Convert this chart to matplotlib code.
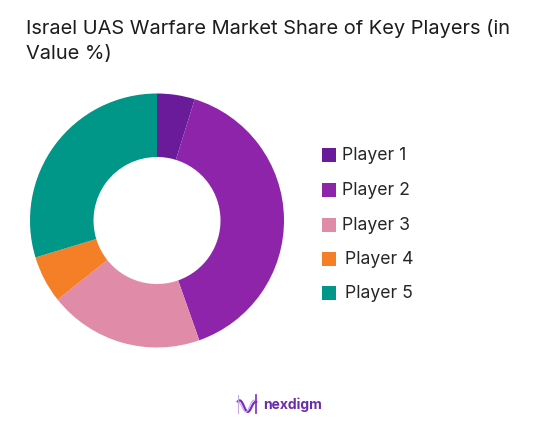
import numpy as np
import matplotlib
matplotlib.use("Agg")
import matplotlib.pyplot as plt
from matplotlib.patches import Rectangle

title_lines = ["Israel UAS Warfare Market Share of Key Players (in", "Value %)"]
players = ["Player 1", "Player 2", "Player 3", "Player 4", "Player 5"]
shares = [4.8, 39.8, 19.7, 6.0, 29.7]
colors = ["#6A1B9A", "#8E24AA", "#E08CA8", "#F57F27", "#009688"]
legend_y = [156, 191, 226, 260, 294]
legend_sw_x = [322, 322, 322, 322, 322]
legend_tx_x = [342, 342, 342, 345, 345]
W, H = 540, 431

plt.rcParams["font.family"] = ["Inter", "DejaVu Sans"]
fig = plt.figure(figsize=(W / 100, H / 100), dpi=100, facecolor="white")

ax = fig.add_axes([(157 - 127) / W, 1 - (221.5 + 127) / H, 254 / W, 254 / H])
ax.pie(shares, colors=colors, startangle=90, counterclock=False, radius=1,
       wedgeprops=dict(width=0.5, linewidth=0))
ax.set_xlim(-1, 1)
ax.set_ylim(-1, 1)
ax.set_aspect("equal")

for line, y in zip(title_lines, [29, 54]):
    fig.text(26 / W, 1 - y / H, line, fontsize=14.4, color="#1c1c1c", va="center", ha="left")

for name, col, y, sx, tx in zip(players, colors, legend_y, legend_sw_x, legend_tx_x):
    fig.add_artist(Rectangle((sx / W, 1 - (y + 7) / H), 14 / W, 14 / H, color=col,
                             transform=fig.transFigure, linewidth=0))
    fig.text(tx / W, 1 - y / H, name, fontsize=12.7, color="#262626", va="center", ha="left")

# logo
logo = fig.add_axes([236 / W, 1 - 416 / H, 22 / W, 22 / H])
logo.axis("off")
t = np.linspace(0, 1, 60)
for ph, col, lw in [(0.0, "#7B2CBF", 1.6), (0.12, "#C9A6E4", 0.8)]:
    logo.plot(0.08 + 0.84 * t, 0.5 + 0.36 * np.cos(2 * np.pi * (t * 0.9 + ph)) * np.sin(np.pi * (t * 0.8 + 0.1)),
              color=col, lw=lw)
logo.plot([0.08, 0.08], [0.1, 0.92], color="#C9A6E4", lw=0.8)
logo.plot([0.92, 0.92], [0.08, 0.92], color="#7B2CBF", lw=1.2)
logo.set_xlim(0, 1)
logo.set_ylim(0, 1)
fig.text(263 / W, 1 - 405 / H, "nexdigm", fontsize=10, fontweight="bold", color="#6A2CA8",
         va="center", ha="left")

fig.savefig("out.png", dpi=100, facecolor="white")
